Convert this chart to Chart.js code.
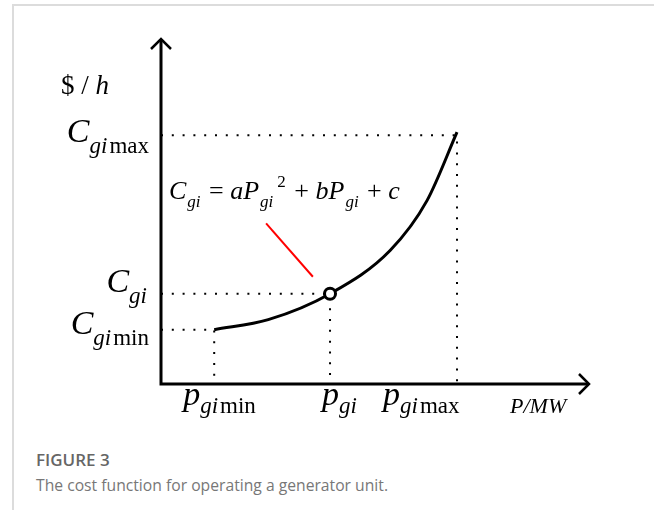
<!DOCTYPE html>
<html>
<head>
<meta charset="utf-8">
<script src="https://cdn.jsdelivr.net/npm/chart.js@4"></script>
<style>
  body { margin: 0; background: #fff; width: 654px; height: 510px; overflow: hidden; position: relative; }
  .frame { position: absolute; left: 12px; top: 4px; right: 0; bottom: 0; border-top: 2px solid #dcdcdc; border-left: 2px solid #dcdcdc; }
  #chart { position: absolute; left: 0; top: 0; }
  .fig { position: absolute; left: 36px; top: 451px; font: 600 17px/17px "Open Sans", sans-serif; color: #666; }
  .cap { position: absolute; left: 36px; top: 477px; font: 400 15.7px/16px "Open Sans", sans-serif; color: #777; }
</style>
</head>
<body>
<div class="frame"></div>
<canvas id="chart" width="654" height="440"></canvas>
<div class="fig">FIGURE 3</div>
<div class="cap">The cost function for operating a generator unit.</div>
<script>
// sketch values, both axes run 0..100 (no real units on the figure)
const curveP = [12.4, 25, 39.4, 53.4, 62, 69];
const curveC = [15.7, 18.6, 26.1, 38.6, 53, 72.8];

const pLevels = [12.4, 39.4, 69];   // p_gimin, p_gi, p_gimax
const cLevels = [15.7, 26.1, 71.9]; // C_gimin, C_gi, C_gimax

const pointerP = [24.5, 35.4];
const pointerC = [46.4, 31.0];

const xTickLabels = [["p", "gi", "min"], ["p", "gi", ""], ["p", "gi", "max"]];
const yTickLabels = [["C", "gi", "min"], ["C", "gi", ""], ["C", "gi", "max"]];
const xAxisTitle = "P/MW";
const yAxisTitle = ["$ / ", "h"];

const SERIF = '"Liberation Serif", "Times New Roman", serif';

function font(size, italic) {
  return (italic ? "italic " : "") + size + "px " + SERIF;
}

// draw a row of text pieces (for sub/superscripts), returns width
function drawRuns(ctx, runs, x, y, measureOnly) {
  let cx = x;
  runs.forEach((r) => {
    ctx.font = font(r.size, r.it);
    cx += r.gap || 0;
    if (!measureOnly) ctx.fillText(r.t, cx, y + (r.dy || 0));
    cx += ctx.measureText(r.t).width;
  });
  return cx - x;
}

function labelRuns(parts, big, small, dy) {
  return [
    { t: parts[0], size: big, it: true },
    { t: parts[1], size: small, it: true, dy: dy },
    { t: parts[2], size: small, it: false, dy: dy, gap: 2 },
  ];
}

const xLabelShift = [-31, -8, -74];
const yLabelBase = [4, -2, 7];

const annotations = {
  id: "annotations",
  afterDatasetsDraw(chart) {
    const { ctx, scales: { x, y } } = chart;
    const x0 = x.getPixelForValue(0);
    const y0 = y.getPixelForValue(0);
    const xEnd = x.getPixelForValue(100);
    const yEnd = y.getPixelForValue(100);

    ctx.save();
    ctx.strokeStyle = "#000";
    ctx.fillStyle = "#000";

    // axes with open arrowheads
    ctx.lineWidth = 3;
    ctx.beginPath();
    ctx.moveTo(x0, y0 + 1.5);
    ctx.lineTo(x0, yEnd + 1);
    ctx.moveTo(x0 - 1.5, y0);
    ctx.lineTo(xEnd - 1, y0);
    ctx.stroke();

    ctx.lineWidth = 2.5;
    ctx.beginPath();
    ctx.moveTo(x0 - 10, yEnd + 11);
    ctx.lineTo(x0, yEnd + 1);
    ctx.lineTo(x0 + 10, yEnd + 11);
    ctx.moveTo(xEnd - 11, y0 - 10);
    ctx.lineTo(xEnd - 1, y0);
    ctx.lineTo(xEnd - 11, y0 + 10);
    ctx.stroke();

    ctx.textBaseline = "alphabetic";
    ctx.textAlign = "left";

    // y labels, right aligned next to the axis
    yTickLabels.forEach((parts, i) => {
      const runs = labelRuns(parts, 34, 23, 11);
      const w = drawRuns(ctx, runs, 0, 0, true);
      drawRuns(ctx, runs, x0 - 12 - w, y.getPixelForValue(cLevels[i]) + yLabelBase[i]);
    });

    // x labels under the axis
    xTickLabels.forEach((parts, i) => {
      const runs = labelRuns(parts, 34, 23, 8);
      drawRuns(ctx, runs, x.getPixelForValue(pLevels[i]) + xLabelShift[i], y0 + 21);
    });

    // axis titles
    ctx.font = font(22, true);
    ctx.fillText(xAxisTitle, x0 + 349, y0 + 29);
    drawRuns(ctx, [
      { t: yAxisTitle[0], size: 27, it: false },
      { t: yAxisTitle[1], size: 27, it: true },
    ], x0 - 100, yEnd + 56);

    // cost formula
    drawRuns(ctx, [
      { t: "C", size: 26, it: true },
      { t: "gi", size: 17, it: true, dy: 8, gap: 1 },
      { t: " = ", size: 26, it: false, gap: 2 },
      { t: "a", size: 26, it: true },
      { t: "P", size: 26, it: true },
      { t: "gi", size: 17, it: true, dy: 8, gap: 1 },
      { t: "2", size: 17, it: false, dy: -12, gap: 4 },
      { t: " + ", size: 26, it: false, gap: 2 },
      { t: "b", size: 26, it: true },
      { t: "P", size: 26, it: true },
      { t: "gi", size: 17, it: true, dy: 8, gap: 1 },
      { t: " + ", size: 26, it: false, gap: 2 },
      { t: "c", size: 26, it: true },
    ], x0 + 8, yEnd + 161);

    ctx.restore();
  },
};

const guide = (p, c) => ({
  data: [{ x: 0, y: c }, { x: p, y: c }, { x: p, y: 0 }],
  showLine: true,
  borderColor: "#000",
  borderWidth: 2,
  borderDash: [2, 8.8],
  pointRadius: 0,
  order: 3,
});

const ctx = document.getElementById("chart").getContext("2d");

new Chart(ctx, {
  type: "scatter",
  data: {
    datasets: [
      {
        // operating point marker
        data: [{ x: pLevels[1], y: cLevels[1] }],
        pointRadius: 5.5,
        pointBackgroundColor: "#fff",
        pointBorderColor: "#000",
        pointBorderWidth: 3,
        order: 0,
      },
      {
        data: curveP.map((p, i) => ({ x: p, y: curveC[i] })),
        showLine: true,
        borderColor: "#000",
        borderWidth: 3,
        pointRadius: 0,
        cubicInterpolationMode: "monotone",
        order: 1,
      },
      {
        data: pointerP.map((p, i) => ({ x: p, y: pointerC[i] })),
        showLine: true,
        borderColor: "#ff0000",
        borderWidth: 2,
        pointRadius: 0,
        order: 2,
      },
      ...pLevels.map((p, i) => guide(p, cLevels[i])),
    ],
  },
  options: {
    responsive: false,
    animation: false,
    events: [],
    layout: {
      padding: { left: 161, right: 64, top: 38, bottom: 56 },
    },
    scales: {
      x: { type: "linear", min: 0, max: 100, display: false },
      y: { type: "linear", min: 0, max: 100, display: false },
    },
    plugins: {
      legend: { display: false },
      tooltip: { enabled: false },
    },
  },
  plugins: [annotations],
});
</script>
</body>
</html>
